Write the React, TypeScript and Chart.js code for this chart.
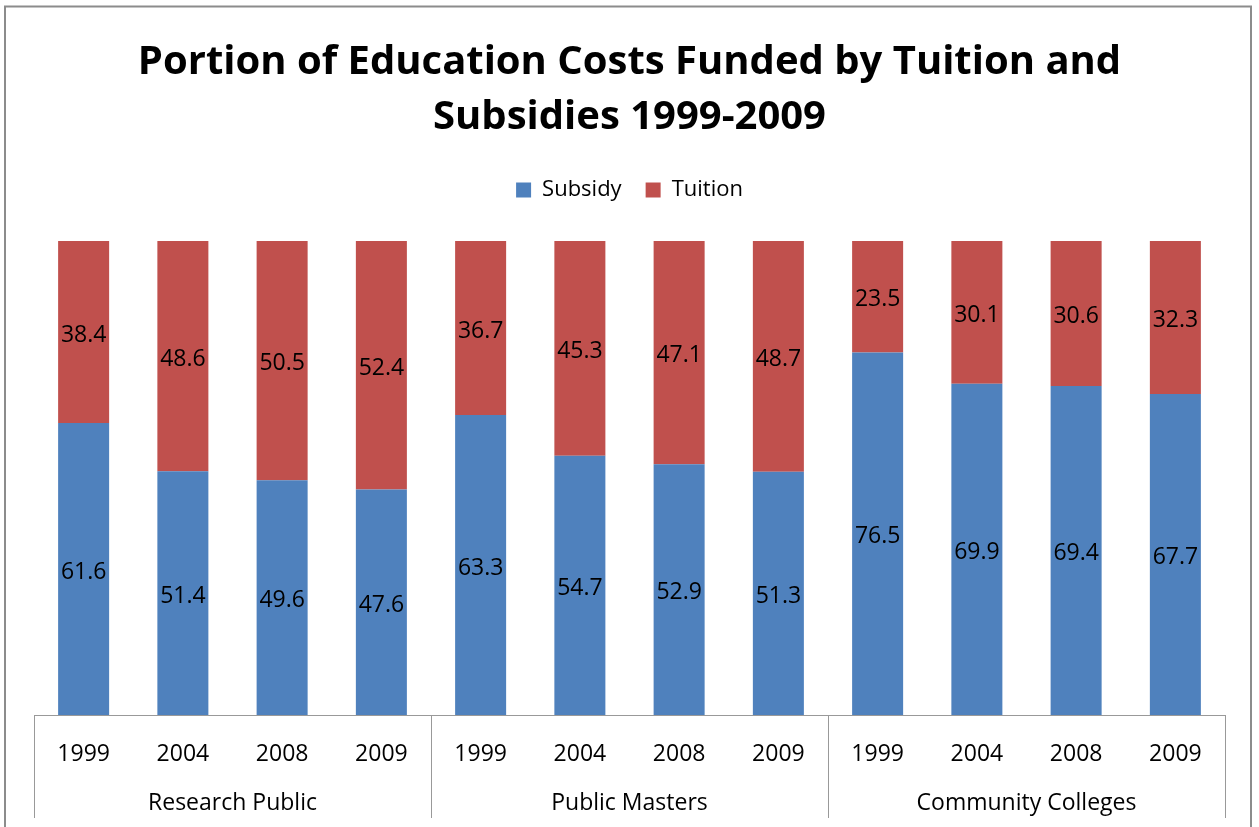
import React, { useEffect, useRef } from "react";
import { Chart, registerables } from "chart.js";

Chart.register(...registerables);

const titleLines = ["Portion of Education Costs Funded by Tuition and", "Subsidies 1999-2009"];
const years = ["1999", "2004", "2008", "2009", "1999", "2004", "2008", "2009", "1999", "2004", "2008", "2009"];
const groups = ["Research Public", "Public Masters", "Community Colleges"];
const subsidy = [61.6, 51.4, 49.6, 47.6, 63.3, 54.7, 52.9, 51.3, 76.5, 69.9, 69.4, 67.7];
const tuition = [38.4, 48.6, 50.5, 52.4, 36.7, 45.3, 47.1, 48.7, 23.5, 30.1, 30.6, 32.3];

const FONT = "'Open Sans', 'Noto Sans', sans-serif";
const BLUE = "#4F81BD";
const RED = "#C0504D";
const GRAY = "#999999";

const share = (a: number[], b: number[]) => a.map((v, i) => (v / (v + b[i])) * 100);

export default function App() {
  const ref = useRef<HTMLCanvasElement | null>(null);

  useEffect(() => {
    if (!ref.current) return;
    const rawByDataset = [subsidy, tuition];

    const legendSpace = {
      id: "legendSpace",
      beforeInit(chart: any) {
        const legend = chart.legend;
        if (!legend) return;
        const orig = legend.fit;
        legend.fit = function () {
          orig.call(this);
          this.height += 30;
        };
      },
    };

    const frame = {
      id: "frame",
      beforeDraw(chart: any) {
        const ctx = chart.ctx;
        ctx.save();
        ctx.fillStyle = "#ffffff";
        ctx.fillRect(0, 0, chart.width, chart.height);
        ctx.strokeStyle = "#8c8c8c";
        ctx.lineWidth = 2;
        ctx.strokeRect(5, 6.5, 1246, 900);
        ctx.restore();
      },
    };

    const labels = {
      id: "valueLabels",
      afterDatasetsDraw(chart: any) {
        const ctx = chart.ctx;
        ctx.save();
        ctx.font = `23px ${FONT}`;
        ctx.fillStyle = "#000000";
        ctx.textAlign = "center";
        ctx.textBaseline = "middle";
        chart.data.datasets.forEach((_: any, di: number) => {
          const meta = chart.getDatasetMeta(di);
          meta.data.forEach((bar: any, i: number) => {
            const y = (bar.y + bar.base) / 2 + 3;
            ctx.fillText(rawByDataset[di][i].toFixed(1), bar.x, y);
          });
        });
        ctx.restore();
      },
    };

    const groupAxis = {
      id: "groupAxis",
      afterDraw(chart: any) {
        const ctx = chart.ctx;
        const x = chart.scales.x;
        const bottom = chart.chartArea.bottom;
        const half = (x.getPixelForValue(1) - x.getPixelForValue(0)) / 2;
        ctx.save();
        ctx.strokeStyle = GRAY;
        ctx.lineWidth = 1;
        for (let g = 0; g <= groups.length; g++) {
          const idx = Math.min(g * 4, years.length - 1);
          const px = g * 4 < years.length ? x.getPixelForValue(idx) - half : x.getPixelForValue(idx) + half;
          const sx = Math.round(px) + 0.5;
          ctx.beginPath();
          ctx.moveTo(sx, bottom);
          ctx.lineTo(sx, bottom + 103);
          ctx.stroke();
        }
        ctx.font = `23px ${FONT}`;
        ctx.fillStyle = "#000000";
        ctx.textAlign = "center";
        ctx.textBaseline = "middle";
        groups.forEach((name, g) => {
          const cx = (x.getPixelForValue(g * 4) + x.getPixelForValue(g * 4 + 3)) / 2;
          ctx.fillText(name, cx, bottom + 88);
        });
        ctx.restore();
      },
    };

    const chart = new Chart(ref.current, {
      type: "bar",
      data: {
        labels: years,
        datasets: [
          { label: "Subsidy", data: share(subsidy, tuition), backgroundColor: BLUE, categoryPercentage: 1, barPercentage: 0.514 },
          { label: "Tuition", data: share(tuition, subsidy), backgroundColor: RED, categoryPercentage: 1, barPercentage: 0.514 },
        ],
      },
      options: {
        responsive: false,
        animation: false,
        layout: { padding: { left: 34, right: 34, top: 0, bottom: 0 } },
        plugins: {
          title: {
            display: true,
            text: titleLines,
            color: "#000000",
            font: { family: FONT, size: 40, weight: "bold", lineHeight: 55 / 40 },
            padding: { top: 35.5, bottom: 9.5 },
          },
          legend: {
            display: true,
            position: "top",
            labels: {
              color: "#000000",
              font: { family: FONT, size: 22 },
              boxWidth: 15,
              boxHeight: 15,
              padding: 24,
            },
          },
          tooltip: { enabled: false },
        },
        scales: {
          x: {
            stacked: true,
            grid: { display: false, drawTicks: false },
            border: { display: true, color: GRAY, width: 1 },
            ticks: { color: "#000000", font: { family: FONT, size: 23 }, padding: 26, maxRotation: 0, autoSkip: false },
            afterFit: (scale: any) => {
              scale.height = 112;
            },
          },
          y: {
            stacked: true,
            display: false,
            min: 0,
            max: 100,
          },
        },
      },
      plugins: [legendSpace, frame, labels, groupAxis],
    } as any);

    return () => chart.destroy();
  }, []);

  return (
    <div style={{ position: "fixed", left: 0, top: 0, width: 1259, height: 827, background: "#fff" }}>
      <canvas ref={ref} width={1259} height={827} style={{ display: "block" }} />
    </div>
  );
}
